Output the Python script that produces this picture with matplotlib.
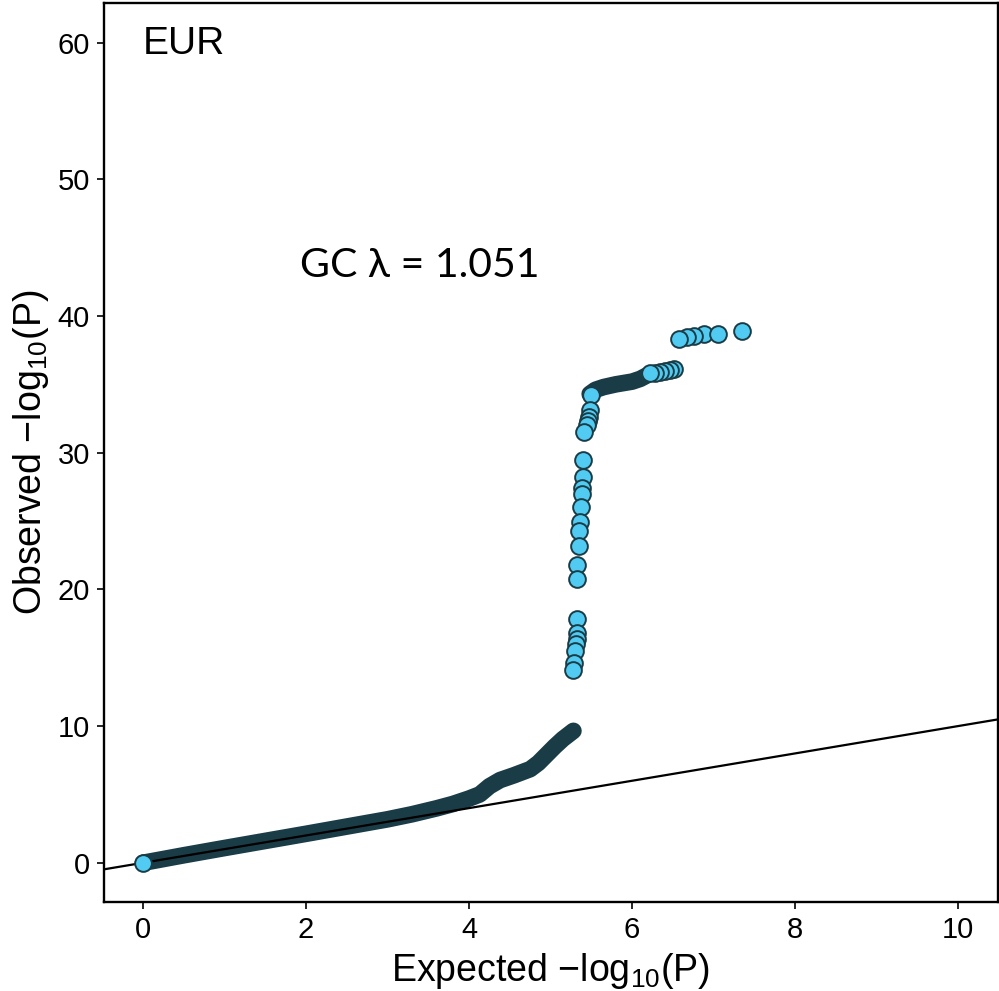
import matplotlib
matplotlib.use("Agg")
import matplotlib.pyplot as plt

plt.rcParams["font.family"] = ["Liberation Sans", "DejaVu Sans"]
plt.rcParams["mathtext.fontset"] = "custom"
plt.rcParams["mathtext.rm"] = "Liberation Sans"
plt.rcParams["mathtext.it"] = "Liberation Sans:italic"

# ── QQ data: -log10(P), expected vs observed ─────────────────────────────────
# dense bulk of SNPs (thousands of overlapping points, drawn as a track)
bulk_expected = [0.0, 0.5, 1.0, 1.5, 2.0, 2.5, 3.0, 3.3, 3.6, 3.8, 4.0, 4.13,
                 4.25, 4.38, 4.55, 4.75, 4.85, 4.95, 5.05, 5.15, 5.28]
bulk_observed = [0.0, 0.55, 1.08, 1.6, 2.12, 2.65, 3.18, 3.55, 3.98, 4.3, 4.7,
                 5.0, 5.6, 6.05, 6.4, 6.85, 7.3, 7.9, 8.5, 9.05, 9.65]

# dense shoulder of the top hit
shoulder_expected = [5.48, 5.55, 5.65, 5.8, 6.0, 6.1, 6.18]
shoulder_observed = [34.3, 34.6, 34.8, 35.0, 35.2, 35.4, 35.65]

# individually visible points
point_expected = [0.0,
                  5.28, 5.29, 5.30, 5.31, 5.32, 5.32, 5.33, 5.33, 5.33,
                  5.35, 5.35, 5.36, 5.37, 5.38, 5.39, 5.40, 5.40, 5.41,
                  5.45, 5.46, 5.47, 5.48, 5.49,
                  6.22, 6.28, 6.34, 6.40, 6.46, 6.52,
                  6.58, 6.67, 6.76, 6.88, 7.06, 7.35]
point_observed = [0.0,
                  14.1, 14.6, 15.5, 16.0, 16.4, 16.8, 17.8, 20.75, 21.8,
                  23.2, 24.3, 24.9, 26.0, 27.0, 27.4, 28.2, 29.5, 31.5,
                  32.0, 32.3, 32.6, 33.1, 34.2,
                  35.8, 35.85, 35.92, 35.97, 36.04, 36.11,
                  38.29, 38.48, 38.55, 38.65, 38.65, 38.92]

gc_lambda = 1.051
ancestry = "EUR"

FILL = "#52CBF2"
EDGE = "#1A3C47"

fig = plt.figure(figsize=(9.99, 9.91), dpi=100)
ax = fig.add_axes([0.1041, 0.0898, 0.8949, 0.9072])

# bulk tracks
ax.plot(bulk_expected, bulk_observed, color=EDGE, lw=12,
        solid_capstyle="round", solid_joinstyle="round", zorder=2)
ax.plot(shoulder_expected, shoulder_observed, color=EDGE, lw=12,
        solid_capstyle="round", solid_joinstyle="round", zorder=2)

# null line y = x
ax.axline((0, 0), slope=1, color="black", lw=1.6, zorder=3)

# individual points, largest first so lower ones sit on top
order = sorted(range(len(point_observed)), key=lambda i: -point_observed[i])
ax.scatter([point_expected[i] for i in order], [point_observed[i] for i in order],
           s=145, facecolor=FILL, edgecolor=EDGE, linewidth=1.4, zorder=4)

ax.set_xlim(-0.48, 10.49)
ax.set_ylim(-2.87, 62.9)
ax.set_xticks([0, 2, 4, 6, 8, 10])
ax.set_yticks([0, 10, 20, 30, 40, 50, 60])

for spine in ax.spines.values():
    spine.set_linewidth(1.7)
ax.tick_params(length=5, width=1.2, labelsize=21, pad=5)

ax.set_xlabel("Expected \u2212log$_{10}$(P)", fontsize=27, labelpad=5)
ax.set_ylabel("Observed \u2212log$_{10}$(P)", fontsize=27, labelpad=5)

ax.text(0.0, 59.9, ancestry, fontsize=28, ha="left", va="center")
ax.text(1.93, 43.7, f"GC \u03bb = {gc_lambda:.3f}", fontsize=29.5,
        family=["Lato", "DejaVu Sans"], ha="left", va="center")

fig.savefig("out.png", dpi=100, facecolor="white")
